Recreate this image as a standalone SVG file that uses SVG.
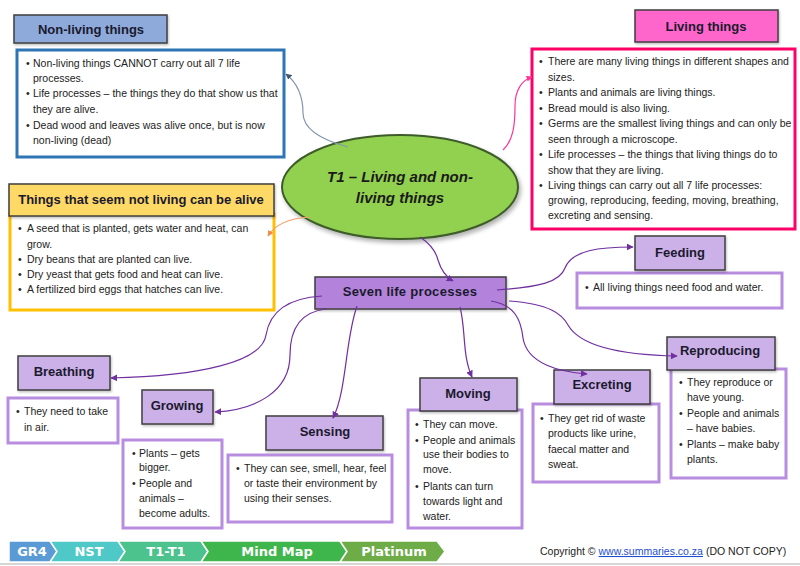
<svg xmlns="http://www.w3.org/2000/svg" width="800" height="566" viewBox="0 0 800 566">
<defs>
<style>
.t{font-family:"Liberation Sans",Arial,sans-serif;font-size:10.5px;fill:#222}
.h{font-family:"Liberation Sans",Arial,sans-serif;font-size:13px;font-weight:bold;fill:#1a1a2e;text-anchor:middle}
.hd{stroke:#3f3f3f;stroke-width:1.5}
.ph{fill:#ccb0e8}
.pb{fill:#fff;stroke:#b88de0;stroke-width:3}
.c{fill:none;stroke:#7030a0;stroke-width:1.2}
.ft{font-family:"DejaVu Sans",Verdana,sans-serif;font-size:13px;font-weight:bold;fill:#fff;text-anchor:middle}
</style>
<marker id="ap" viewBox="0 0 10 10" refX="9" refY="5" markerWidth="7" markerHeight="7" orient="auto" markerUnits="userSpaceOnUse"><path d="M0,0 L10,5 L0,10 Z" fill="#7030a0"/></marker>
<marker id="ab" viewBox="0 0 10 10" refX="9" refY="5" markerWidth="6" markerHeight="6" orient="auto" markerUnits="userSpaceOnUse"><path d="M0,0 L10,5 L0,10 Z" fill="#44546a"/></marker>
<marker id="ak" viewBox="0 0 10 10" refX="9" refY="5" markerWidth="6" markerHeight="6" orient="auto" markerUnits="userSpaceOnUse"><path d="M0,0 L10,5 L0,10 Z" fill="#ff3399"/></marker>
<marker id="ao" viewBox="0 0 10 10" refX="9" refY="5" markerWidth="6" markerHeight="6" orient="auto" markerUnits="userSpaceOnUse"><path d="M0,0 L10,5 L0,10 Z" fill="#f08c4a"/></marker>
<filter id="sh" x="-10%" y="-10%" width="130%" height="140%"><feDropShadow dx="2" dy="3" stdDeviation="2" flood-color="#000" flood-opacity="0.3"/></filter>
<filter id="sh2" x="-10%" y="-10%" width="130%" height="140%"><feDropShadow dx="1" dy="1.5" stdDeviation="1" flood-color="#000" flood-opacity="0.25"/></filter>
</defs>
<rect width="800" height="566" fill="#fff"/>

<g id="title">
<ellipse cx="400" cy="187" rx="118" ry="52" fill="#92d050" stroke="#3d5c2a" stroke-width="2" filter="url(#sh)"/>
<text x="400" y="182" text-anchor="middle" font-family="Liberation Sans,Arial,sans-serif" font-size="15" font-weight="bold" font-style="italic" fill="#1a1a1a">T1 – Living and non-</text>
<text x="400" y="203" text-anchor="middle" font-family="Liberation Sans,Arial,sans-serif" font-size="15" font-weight="bold" font-style="italic" fill="#1a1a1a">living things</text>
</g>

<g id="nonliving">
<rect x="17" y="50" width="267" height="107" fill="#fff" stroke="#2e75b6" stroke-width="3"/>
<rect x="14" y="15" width="153" height="28" fill="#8eaadb" class="hd" filter="url(#sh2)"/>
<text class="h" x="91" y="34">Non-living things</text>
<text class="t" x="26" y="67">•</text><text class="t" x="33" y="67">Non-living things CANNOT carry out all 7 life</text>
<text class="t" x="33" y="82">processes.</text>
<text class="t" x="26" y="97">•</text><text class="t" x="33" y="97">Life processes – the things they do that show us that</text>
<text class="t" x="33" y="113">they are alive.</text>
<text class="t" x="26" y="129">•</text><text class="t" x="33" y="129">Dead wood and leaves was alive once, but is now</text>
<text class="t" x="33" y="144">non-living (dead)</text>
</g>

<g id="living">
<rect x="532" y="49" width="263" height="180" fill="#fff" stroke="#ff0066" stroke-width="3"/>
<rect x="635" y="10" width="143" height="32" fill="#ff66cc" class="hd" filter="url(#sh2)"/>
<text class="h" x="706" y="31">Living things</text>
<text class="t" x="539" y="65">•</text><text class="t" x="548" y="65">There are many living things in different shapes and</text>
<text class="t" x="548" y="81">sizes.</text>
<text class="t" x="539" y="96">•</text><text class="t" x="548" y="96">Plants and animals are living things.</text>
<text class="t" x="539" y="112">•</text><text class="t" x="548" y="112">Bread mould is also living.</text>
<text class="t" x="539" y="127">•</text><text class="t" x="548" y="127">Germs are the smallest living things and can only be</text>
<text class="t" x="548" y="143">seen through a microscope.</text>
<text class="t" x="539" y="158">•</text><text class="t" x="548" y="158">Life processes – the things that living things do to</text>
<text class="t" x="548" y="174">show that they are living.</text>
<text class="t" x="539" y="189">•</text><text class="t" x="548" y="189">Living things can carry out all 7 life processes:</text>
<text class="t" x="548" y="204">growing, reproducing, feeding, moving, breathing,</text>
<text class="t" x="548" y="219">excreting and sensing.</text>
</g>

<g id="seemnotliving">
<rect x="10" y="214" width="264" height="96" fill="#fff" stroke="#ffc000" stroke-width="3"/>
<rect x="9" y="184" width="265" height="32" fill="#ffd966" class="hd" filter="url(#sh2)"/>
<text class="h" x="141" y="204">Things that seem not living can be alive</text>
<text class="t" x="18" y="232">•</text><text class="t" x="27" y="232">A seed that is planted, gets water and heat, can</text>
<text class="t" x="27" y="248">grow.</text>
<text class="t" x="18" y="263">•</text><text class="t" x="27" y="263">Dry beans that are planted can live.</text>
<text class="t" x="18" y="278">•</text><text class="t" x="27" y="278">Dry yeast that gets food and heat can live.</text>
<text class="t" x="18" y="293">•</text><text class="t" x="27" y="293">A fertilized bird eggs that hatches can live.</text>
</g>

<g id="seven">
<rect x="315" y="277" width="191" height="32" fill="#b383db" class="hd" filter="url(#sh2)"/>
<text class="h" x="410" y="296" letter-spacing="0.3">Seven life processes</text>
</g>

<g id="feeding">
<rect x="577" y="273" width="205" height="35" class="pb"/>
<rect x="635" y="236" width="90" height="34" class="ph hd" filter="url(#sh2)"/>
<text class="h" x="680" y="257">Feeding</text>
<text class="t" x="585" y="291">•</text><text class="t" x="593" y="291">All living things need food and water.</text>
</g>

<g id="reproducing">
<rect x="671" y="369" width="115" height="109" class="pb"/>
<rect x="667" y="337" width="108" height="33" class="ph hd" filter="url(#sh2)"/>
<text class="h" x="720" y="355">Reproducing</text>
<text class="t" x="679" y="386">•</text><text class="t" x="687" y="386">They reproduce or</text>
<text class="t" x="687" y="401">have young.</text>
<text class="t" x="679" y="417">•</text><text class="t" x="687" y="417">People and animals</text>
<text class="t" x="687" y="432">– have babies.</text>
<text class="t" x="679" y="448">•</text><text class="t" x="687" y="448">Plants – make baby</text>
<text class="t" x="687" y="463">plants.</text>
</g>

<g id="excreting">
<rect x="533" y="404" width="126" height="78" class="pb"/>
<rect x="554" y="370" width="96" height="34" class="ph hd" filter="url(#sh2)"/>
<text class="h" x="602" y="389">Excreting</text>
<text class="t" x="540" y="422">•</text><text class="t" x="548" y="422">They get rid of waste</text>
<text class="t" x="548" y="437">products like urine,</text>
<text class="t" x="548" y="453">faecal matter and</text>
<text class="t" x="548" y="468">sweat.</text>
</g>

<g id="moving">
<rect x="408" y="410" width="114" height="118" class="pb"/>
<rect x="420" y="378" width="97" height="33" class="ph hd" filter="url(#sh2)"/>
<text class="h" x="468" y="398">Moving</text>
<text class="t" x="415" y="428">•</text><text class="t" x="423" y="428">They can move.</text>
<text class="t" x="415" y="444">•</text><text class="t" x="423" y="444">People and animals</text>
<text class="t" x="423" y="458">use their bodies to</text>
<text class="t" x="423" y="473">move.</text>
<text class="t" x="415" y="490">•</text><text class="t" x="423" y="490">Plants can turn</text>
<text class="t" x="423" y="505">towards light and</text>
<text class="t" x="423" y="520">water.</text>
</g>

<g id="sensing">
<rect x="228" y="455" width="164" height="67" class="pb"/>
<rect x="266" y="416" width="117" height="34" class="ph hd" filter="url(#sh2)"/>
<text class="h" x="325" y="436">Sensing</text>
<text class="t" x="236" y="472">•</text><text class="t" x="244" y="472">They can see, smell, hear, feel</text>
<text class="t" x="244" y="487">or taste their environment by</text>
<text class="t" x="244" y="502">using their senses.</text>
</g>

<g id="growing">
<rect x="123" y="440" width="99" height="88" class="pb"/>
<rect x="142" y="390" width="71" height="34" class="ph hd" filter="url(#sh2)"/>
<text class="h" x="177" y="410">Growing</text>
<text class="t" x="132" y="457">•</text><text class="t" x="139" y="457">Plants – gets</text>
<text class="t" x="139" y="471">bigger.</text>
<text class="t" x="132" y="487">•</text><text class="t" x="139" y="487">People and</text>
<text class="t" x="139" y="502">animals –</text>
<text class="t" x="139" y="517">become adults.</text>
</g>

<g id="breathing">
<rect x="8" y="398" width="110" height="45" class="pb"/>
<rect x="18" y="356" width="92" height="34" class="ph hd" filter="url(#sh2)"/>
<text class="h" x="64" y="376">Breathing</text>
<text class="t" x="16" y="415">•</text><text class="t" x="24" y="415">They need to take</text>
<text class="t" x="24" y="431">in air.</text>
</g>

<g id="connectors">
<path d="M348,147 C322,140 303,130 303,113 C303,95 296,82 286,74" fill="none" stroke="#8497b0" stroke-width="1.2" marker-end="url(#ab)"/>
<path d="M503,150 C514,140 515,122 515,106 C515,90 522,80 532,77" fill="none" stroke="#ff3399" stroke-width="1.2" marker-end="url(#ak)"/>
<path d="M310,217 C292,218 276,223 268,236" fill="none" stroke="#f4a070" stroke-width="1.2" marker-end="url(#ao)"/>
<path d="M420,237 C432,245 436,252 438,260 C441,270 446,277 453,281" class="c" marker-end="url(#ap)"/>
<path d="M497,290 C540,287 560,282 565,268 C572,250 600,247 633,247" class="c" marker-end="url(#ap)"/>
<path d="M509,301 C550,304 562,314 568,325 C580,346 620,355 677,356" class="c" marker-end="url(#ap)"/>
<path d="M491,301 C515,305 521,320 523,338 C527,364 560,372 587,374" class="c" marker-end="url(#ap)"/>
<path d="M460,307 C466,330 462,355 472,377" class="c" marker-end="url(#ap)"/>
<path d="M357,306 C345,340 347,390 333,418" class="c" marker-end="url(#ap)"/>
<path d="M326,309 C300,312 290,330 290,355 C290,392 255,410 215,412" class="c" marker-end="url(#ap)"/>
<path d="M322,296 C290,298 270,310 266,335 C262,362 200,376 111,378" class="c" marker-end="url(#ap)"/>
</g>

<g id="footer">
<line x1="0" y1="564" x2="800" y2="564" stroke="#c8c8c8" stroke-width="1.5"/>
<g stroke="#fff" stroke-width="1.5" stroke-linejoin="miter">
<path d="M9,541 L50,541 L57,551.5 L50,562 L9,562 Z" fill="#5b9bd5"/>
<path d="M50,541 L118,541 L125,551.5 L118,562 L50,562 L57,551.5 Z" fill="#4fc9c7"/>
<path d="M118,541 L201,541 L208,551.5 L201,562 L118,562 L125,551.5 Z" fill="#4cc38c"/>
<path d="M201,541 L340,541 L347,551.5 L340,562 L201,562 L208,551.5 Z" fill="#3fb64c"/>
<path d="M340,541 L437,541 L445,551.5 L437,562 L340,562 L347,551.5 Z" fill="#6dac47"/>
</g>
<text class="ft" x="32" y="556">GR4</text>
<text class="ft" x="89" y="556">NST</text>
<text class="ft" x="166" y="556">T1-T1</text>
<text class="ft" x="277" y="556">Mind Map</text>
<text class="ft" x="394" y="556">Platinum</text>
<text x="540" y="555" font-family="Liberation Sans,Arial,sans-serif" font-size="10.5" fill="#222">Copyright © <tspan fill="#1f4fd1" text-decoration="underline">www.summaries.co.za</tspan> (DO NOT COPY)</text>
</g>
</svg>
